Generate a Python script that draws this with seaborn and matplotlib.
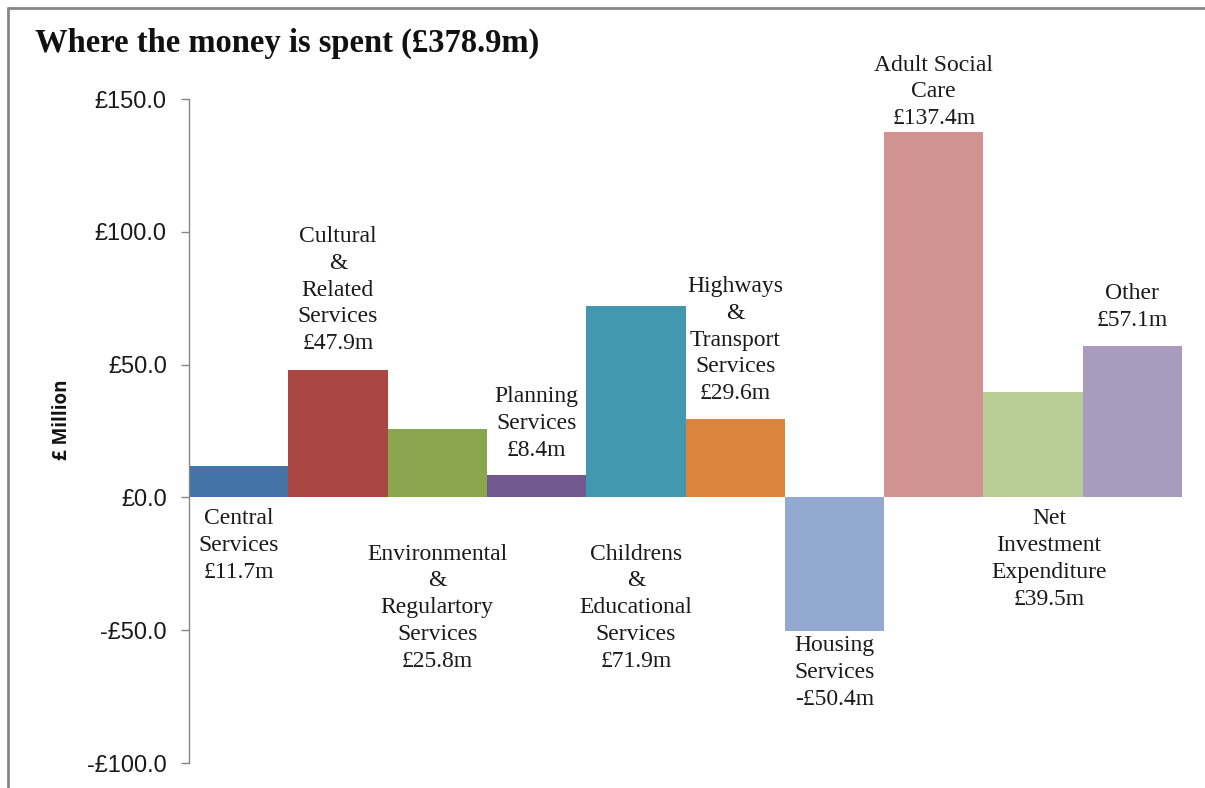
import matplotlib
matplotlib.use("Agg")
import matplotlib.pyplot as plt
import seaborn as sns
import pandas as pd
from matplotlib.lines import Line2D

# ---- data ----
categories = ["Central\nServices", "Cultural\n&\nRelated\nServices",
              "Environmental\n&\nRegulartory\nServices", "Planning\nServices",
              "Childrens\n&\nEducational\nServices", "Highways\n&\nTransport\nServices",
              "Housing\nServices", "Adult Social\nCare",
              "Net\nInvestment\nExpenditure", "Other"]
values = [11.7, 47.9, 25.8, 8.4, 71.9, 29.6, -50.4, 137.4, 39.5, 57.1]
colors = ["#4572A7", "#AA4643", "#89A54E", "#71588F", "#4198AF",
          "#DB843D", "#93A9CF", "#D19392", "#B9CD96", "#A99BBD"]
yticks = [-100, -50, 0, 50, 100, 150]
title = "Where the money is spent (£378.9m)"

# ---- layout for labels (data units) ----
label_y = [-18.1, 78.0, -41.5, 27.9, -41.5, 59.2, -66.0, 152.7, -23.2, 71.8]
label_dx = [0.0, 0.0, 0.0, 0.0, 0.0, 0.0, 0.0, 0.0, 0.16, 0.0]

sns.set_theme(style="white")
serif = ["Liberation Serif", "DejaVu Serif"]
sans = ["Liberation Sans", "DejaVu Sans"]

fig = plt.figure(figsize=(12.05, 7.88), dpi=100)
ax = fig.add_axes([189 / 1205, 25 / 788, (1182 - 189) / 1205, (763 - 99) / 788])

df = pd.DataFrame({"cat": categories, "val": values})
sns.barplot(data=df, x="cat", y="val", hue="cat", palette=colors,
            width=1.0, legend=False, ax=ax, saturation=1)
for p in ax.patches:
    p.set_linewidth(0)

ax.set_xlim(-0.5, len(categories) - 0.5)
ax.set_ylim(-100, 150)
ax.set_yticks(yticks)
ax.set_yticklabels([("-£%.1f" % abs(t)) if t < 0 else ("£%.1f" % t) for t in yticks],
                   fontfamily=sans, fontsize=17, color="#1a1a1a")
ax.set_xticks([])
ax.set_xlabel("")
ax.set_ylabel("")
for s in ["top", "right", "bottom"]:
    ax.spines[s].set_visible(False)
ax.spines["left"].set_color("#868686")
ax.spines["left"].set_linewidth(1.0)
ax.tick_params(axis="y", left=True, length=6, width=1, color="#868686", pad=10)
ax.patch.set_alpha(0)

fig.text(62 / 1205, 1 - 420 / 788, "£ Million", rotation=90, ha="center", va="center",
         fontfamily=["Open Sans", "DejaVu Sans"], fontweight="bold", fontsize=13.5,
         color="#111111")

for i, (name, v) in enumerate(zip(categories, values)):
    vtxt = ("-£%.1fm" % abs(v)) if v < 0 else ("£%.1fm" % v)
    ax.text(i + label_dx[i], label_y[i], name + "\n" + vtxt, ha="center", va="center",
            fontfamily=serif, fontsize=17, color="#1a1a1a", linespacing=1.36,
            clip_on=False)

fig.text(35 / 1205, 1 - 43 / 788, title, ha="left", va="center",
         fontfamily=serif, fontweight="bold", fontsize=23.5, color="#111111")

# outer chart border (left and top visible)
fig.add_artist(Line2D([8 / 1205, 8 / 1205], [0, 1 - 8 / 788], transform=fig.transFigure,
                      color="#868686", lw=2))
fig.add_artist(Line2D([8 / 1205, 1], [1 - 8 / 788, 1 - 8 / 788], transform=fig.transFigure,
                      color="#868686", lw=2))

fig.savefig("out.png", dpi=100, facecolor="white")
